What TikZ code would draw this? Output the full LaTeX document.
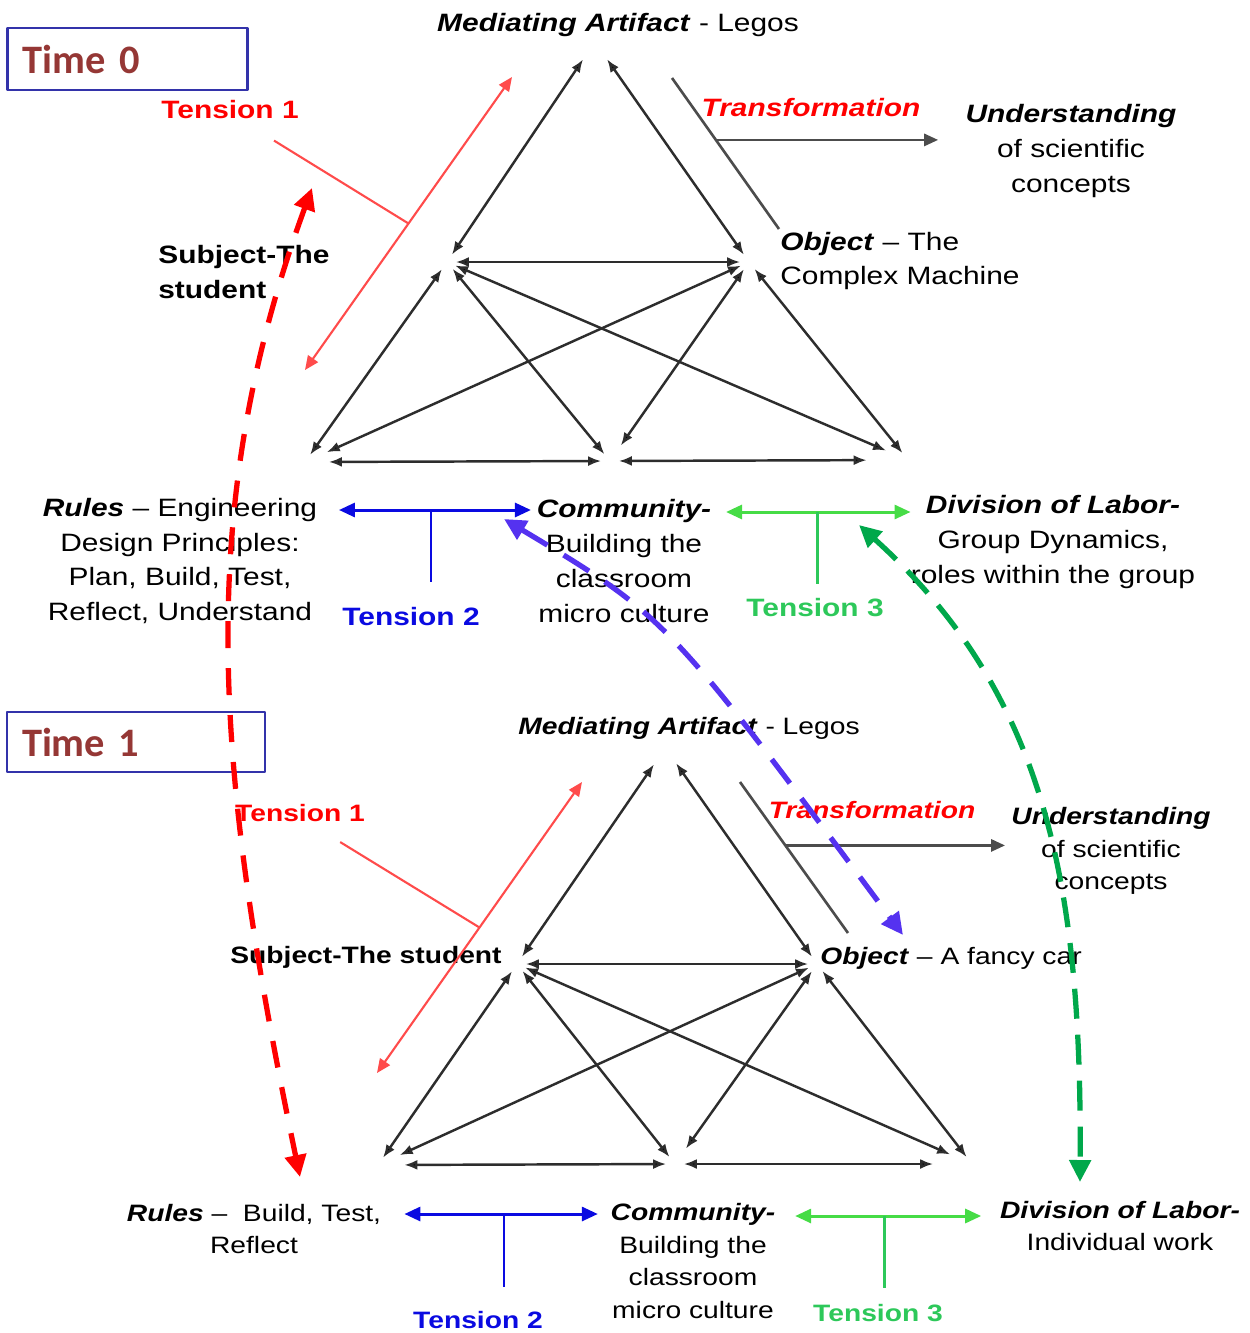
\documentclass[tikz,border=0pt]{standalone}
\usepackage{fontspec}
\setmainfont[FakeStretch=1.19]{Liberation Sans}
\newfontfamily\timefont{Carlito}
\usepackage{xcolor}
\usepackage{tikz}
\usetikzlibrary{arrows.meta,calc}
\definecolor{timered}{RGB}{149,55,53}
\definecolor{timeblue}{RGB}{51,51,170}
\definecolor{netgray}{RGB}{45,45,45}
\definecolor{tensionred}{RGB}{255,0,0}
\definecolor{softred}{RGB}{255,75,75}
\definecolor{tensionblue}{RGB}{10,10,225}
\definecolor{tensiongreen}{RGB}{70,220,70}
\definecolor{labelgreen}{RGB}{45,200,90}
\definecolor{dashblue}{RGB}{85,50,240}
\definecolor{dashgreen}{RGB}{0,168,75}
\newcommand{\boldit}[1]{\textbf{\textit{#1}}}

\begin{document}
\begin{tikzpicture}[x=0.02cm,y=-0.02cm,font=\fontsize{14.3}{19.9}\selectfont,line join=round,
    txt/.style={inner sep=0pt,align=center},
    corner/.style={circle,inner sep=0pt,minimum size=0.34cm},
    netarrow/.style={{Latex[length=0.26cm,width=0.2cm]}-{Latex[length=0.26cm,width=0.2cm]},draw=netgray,line width=1.4pt},
    timebox/.style={draw=timeblue,line width=1.2pt,inner xsep=0.3cm,minimum height=1.24cm,align=left,
      text=timered,font=\timefont\bfseries\fontsize{23}{26}\selectfont},
    redarrow/.style={{Triangle[length=0.28cm,width=0.24cm]}-{Triangle[length=0.28cm,width=0.24cm]},softred,line width=1.2pt},
    redline/.style={softred,line width=1.2pt},
    bracket/.style={draw=netgray!85,line width=1.5pt},
    flow/.style={-{Triangle[length=0.28cm,width=0.24cm]},netgray!85,line width=1.6pt},
    bluearrow/.style={{Triangle[length=0.32cm,width=0.28cm]}-{Triangle[length=0.32cm,width=0.28cm]},tensionblue,line width=1.7pt},
    greenarrow/.style={{Triangle[length=0.32cm,width=0.28cm]}-{Triangle[length=0.32cm,width=0.28cm]},tensiongreen,line width=1.7pt},
    bluestem/.style={tensionblue,line width=1.7pt},
    greenstem/.style={labelgreen,line width=1.7pt},
    longdash/.style={{Triangle[length=0.44cm,width=0.42cm]}-{Triangle[length=0.44cm,width=0.42cm]},line width=3pt}]
\useasboundingbox (0,0) rectangle (1250,1333);

% Time 0
\node[timebox,text width=4.2cm] (time0) at (127.5,59) {Time 0};
\node[txt] (med0) at (618,25) {\boldit{Mediating Artifact} - Legos};
\node[txt,text=tensionred] (ten1a) at (230,110) {\textbf{Tension 1}};
\node[txt,text=tensionred] (tr0) at (811,108) {\boldit{Transformation}};
\node[txt] (und0) at (1071,151) {\boldit{Understanding}\\of scientific\\concepts};
\node[txt,anchor=west,align=left] (subj0) at (158,272) {\textbf{Subject-The}\\\textbf{student}};
\node[txt,anchor=west,align=left] (obj0) at (780,261) {\boldit{Object} – The\\Complex Machine};
\node[txt] (rul0) at (180,561) {\boldit{Rules} – Engineering\\Design Principles:\\Plan, Build, Test,\\Reflect, Understand};
\node[txt] (com0) at (624,561) {\boldit{Community-}\\Building the\\classroom\\micro culture};
\node[txt] (div0) at (1053,542) {\boldit{Division of Labor-}\\Group Dynamics,\\roles within the group};
\node[txt,text=tensionblue] (ten2a) at (411,617) {\textbf{Tension 2}};
\node[txt,text=labelgreen] (ten3a) at (815,608) {\textbf{Tension 3}};

\node[corner] (A0l) at (588,52) {};
\node[corner] (A0r) at (602,52) {};
\node[corner] (S0) at (447,262) {};
\node[corner] (O0) at (749,262) {};
\node[corner] (R0) at (305,462) {};
\node[corner] (C0) at (610,461) {};
\node[corner] (D0) at (908,460) {};
\draw[netarrow] (S0) edge (A0l) edge (O0) edge (R0) edge (C0) edge[shorten >=0.3cm] (D0);
\draw[netarrow] (O0) edge (A0r) edge[shorten >=0.3cm] (R0) edge[shorten >=0.2cm] (C0) edge (D0);
\draw[netarrow] (R0) edge[shorten <=0.3cm] (C0);
\draw[netarrow] (C0) edge[shorten >=0.65cm] (D0);

\coordinate (t1lo0) at (305,370);
\coordinate (t1hi0) at (512,77);
\draw[redarrow] (t1lo0) -- (t1hi0);
\draw[redline] ([xshift=-0.5cm,yshift=-0.42cm]ten1a.south east) -- ($(t1lo0)!0.5!(t1hi0)$);

\coordinate (br0a) at (672,78);
\coordinate (br0b) at (779,229);
\draw[bracket] (br0a) -- (br0b);
\draw[flow] ($(br0a)!0.41!(br0b)$) coordinate (tf0) -- ($(tf0 -| und0.west)+(-27,0)$);

\coordinate (t2j0) at (431,510);
\draw[bluearrow,shorten <=0.43cm,shorten >=0.11cm] (rul0.east |- t2j0) -- (com0.west |- t2j0);
\draw[bluestem] (t2j0) -- ($(t2j0 |- ten2a.north)+(0,-25)$);
\coordinate (t3j0) at (817,512);
\draw[greenarrow,shorten <=0.29cm] (com0.east |- t3j0) -- (div0.west |- t3j0);
\draw[greenstem] (t3j0) -- ($(t3j0 |- ten3a.north)+(0,-14)$);

% Time 1
\begin{scope}[font=\fontsize{13.5}{18.7}\selectfont]
\node[timebox,text width=4.56cm,minimum height=1.2cm] (time1) at (136,742) {Time 1};
\node[txt] (med1) at (689,728) {\boldit{Mediating Artifact} - Legos};
\node[txt,text=tensionred] (ten1b) at (300,813) {\textbf{Tension 1}};
\node[txt,text=tensionred] (tr1) at (872,810) {\boldit{Transformation}};
\node[txt] (und1) at (1111,851) {\boldit{Understanding}\\of scientific\\concepts};
\node[txt,anchor=west] (subj1) at (230,957) {\textbf{Subject-The student}};
\node[txt,anchor=west] (obj1) at (820,958) {\boldit{Object} – A fancy car};
\node[txt] (rul1) at (254,1229) {\boldit{Rules} –~ Build, Test,\\Reflect};
\node[txt] (com1) at (693,1261) {\boldit{Community-}\\Building the\\classroom\\micro culture};
\node[txt] (div1) at (1120,1226) {\boldit{Division of Labor-}\\Individual work};
\node[txt,text=tensionblue] (ten2b) at (478,1320) {\textbf{Tension 2}};
\node[txt,text=labelgreen] (ten3b) at (878,1313) {\textbf{Tension 3}};

\node[corner] (A1l) at (659,757) {};
\node[corner] (A1r) at (671,756) {};
\node[corner] (S1) at (517,964) {};
\node[corner] (O1) at (817,964) {};
\node[corner] (R1) at (378,1165) {};
\node[corner] (C1) at (675,1164) {};
\node[corner] (D1) at (972,1164) {};
\draw[netarrow] (S1) edge (A1l) edge (O1) edge (R1) edge (C1) edge[shorten >=0.3cm] (D1);
\draw[netarrow] (O1) edge (A1r) edge[shorten >=0.3cm] (R1) edge[shorten >=0.2cm] (C1) edge (D1);
\draw[netarrow] (R1) edge[shorten <=0.35cm] (C1);
\draw[netarrow] (C1) edge[shorten >=0.6cm] (D1);

\coordinate (t1lo1) at (377,1073);
\coordinate (t1hi1) at (582,782);
\draw[redarrow] (t1lo1) -- (t1hi1);
\draw[redline] ([xshift=-0.5cm,yshift=-0.4cm]ten1b.south east) -- ($(t1lo1)!0.5!(t1hi1)$);

\coordinate (br1a) at (740,782);
\coordinate (br1b) at (848,933);
\draw[bracket] (br1a) -- (br1b);
\draw[flow] ($(br1a)!0.42!(br1b)$) coordinate (tf1) -- ($(tf1 -| und1.west)+(-6,0)$);

\coordinate (t2j1) at (504,1214);
\draw[bluearrow,shorten <=0.46cm,shorten >=0.25cm] (rul1.east |- t2j1) -- (com1.west |- t2j1);
\draw[bluestem] (t2j1) -- ($(t2j1 |- ten2b.north)+(0,-24)$);
\coordinate (t3j1) at (884,1216);
\draw[greenarrow,shorten <=0.39cm,shorten >=0.37cm] (com1.east |- t3j1) -- (div1.west |- t3j1);
\draw[greenstem] (t3j1) -- ($(t3j1 |- ten3b.north)+(0,-16)$);
\end{scope}

% links between the two times
\coordinate (sd0) at (312,188);
\coordinate (sd1) at (300,1177);
\draw[longdash,tensionred,dash pattern=on 0.54cm off 0.4cm] (sd0) .. controls (192,516) and (216,773) .. (sd1);
\coordinate (cd0) at (504,519);
\coordinate (cd1) at (903,935);
\draw[longdash,dashblue,dash pattern=on 0.6cm off 0.38cm] (cd0) .. controls (667,617) .. (cd1);
\coordinate (dd0) at (859,525);
\coordinate (dd1) at (1080,1182);
\draw[longdash,dashgreen,dash pattern=on 0.6cm off 0.32cm] (dd0) .. controls (1044,692) and (1082,880) .. (dd1);
\end{tikzpicture}
\end{document}
